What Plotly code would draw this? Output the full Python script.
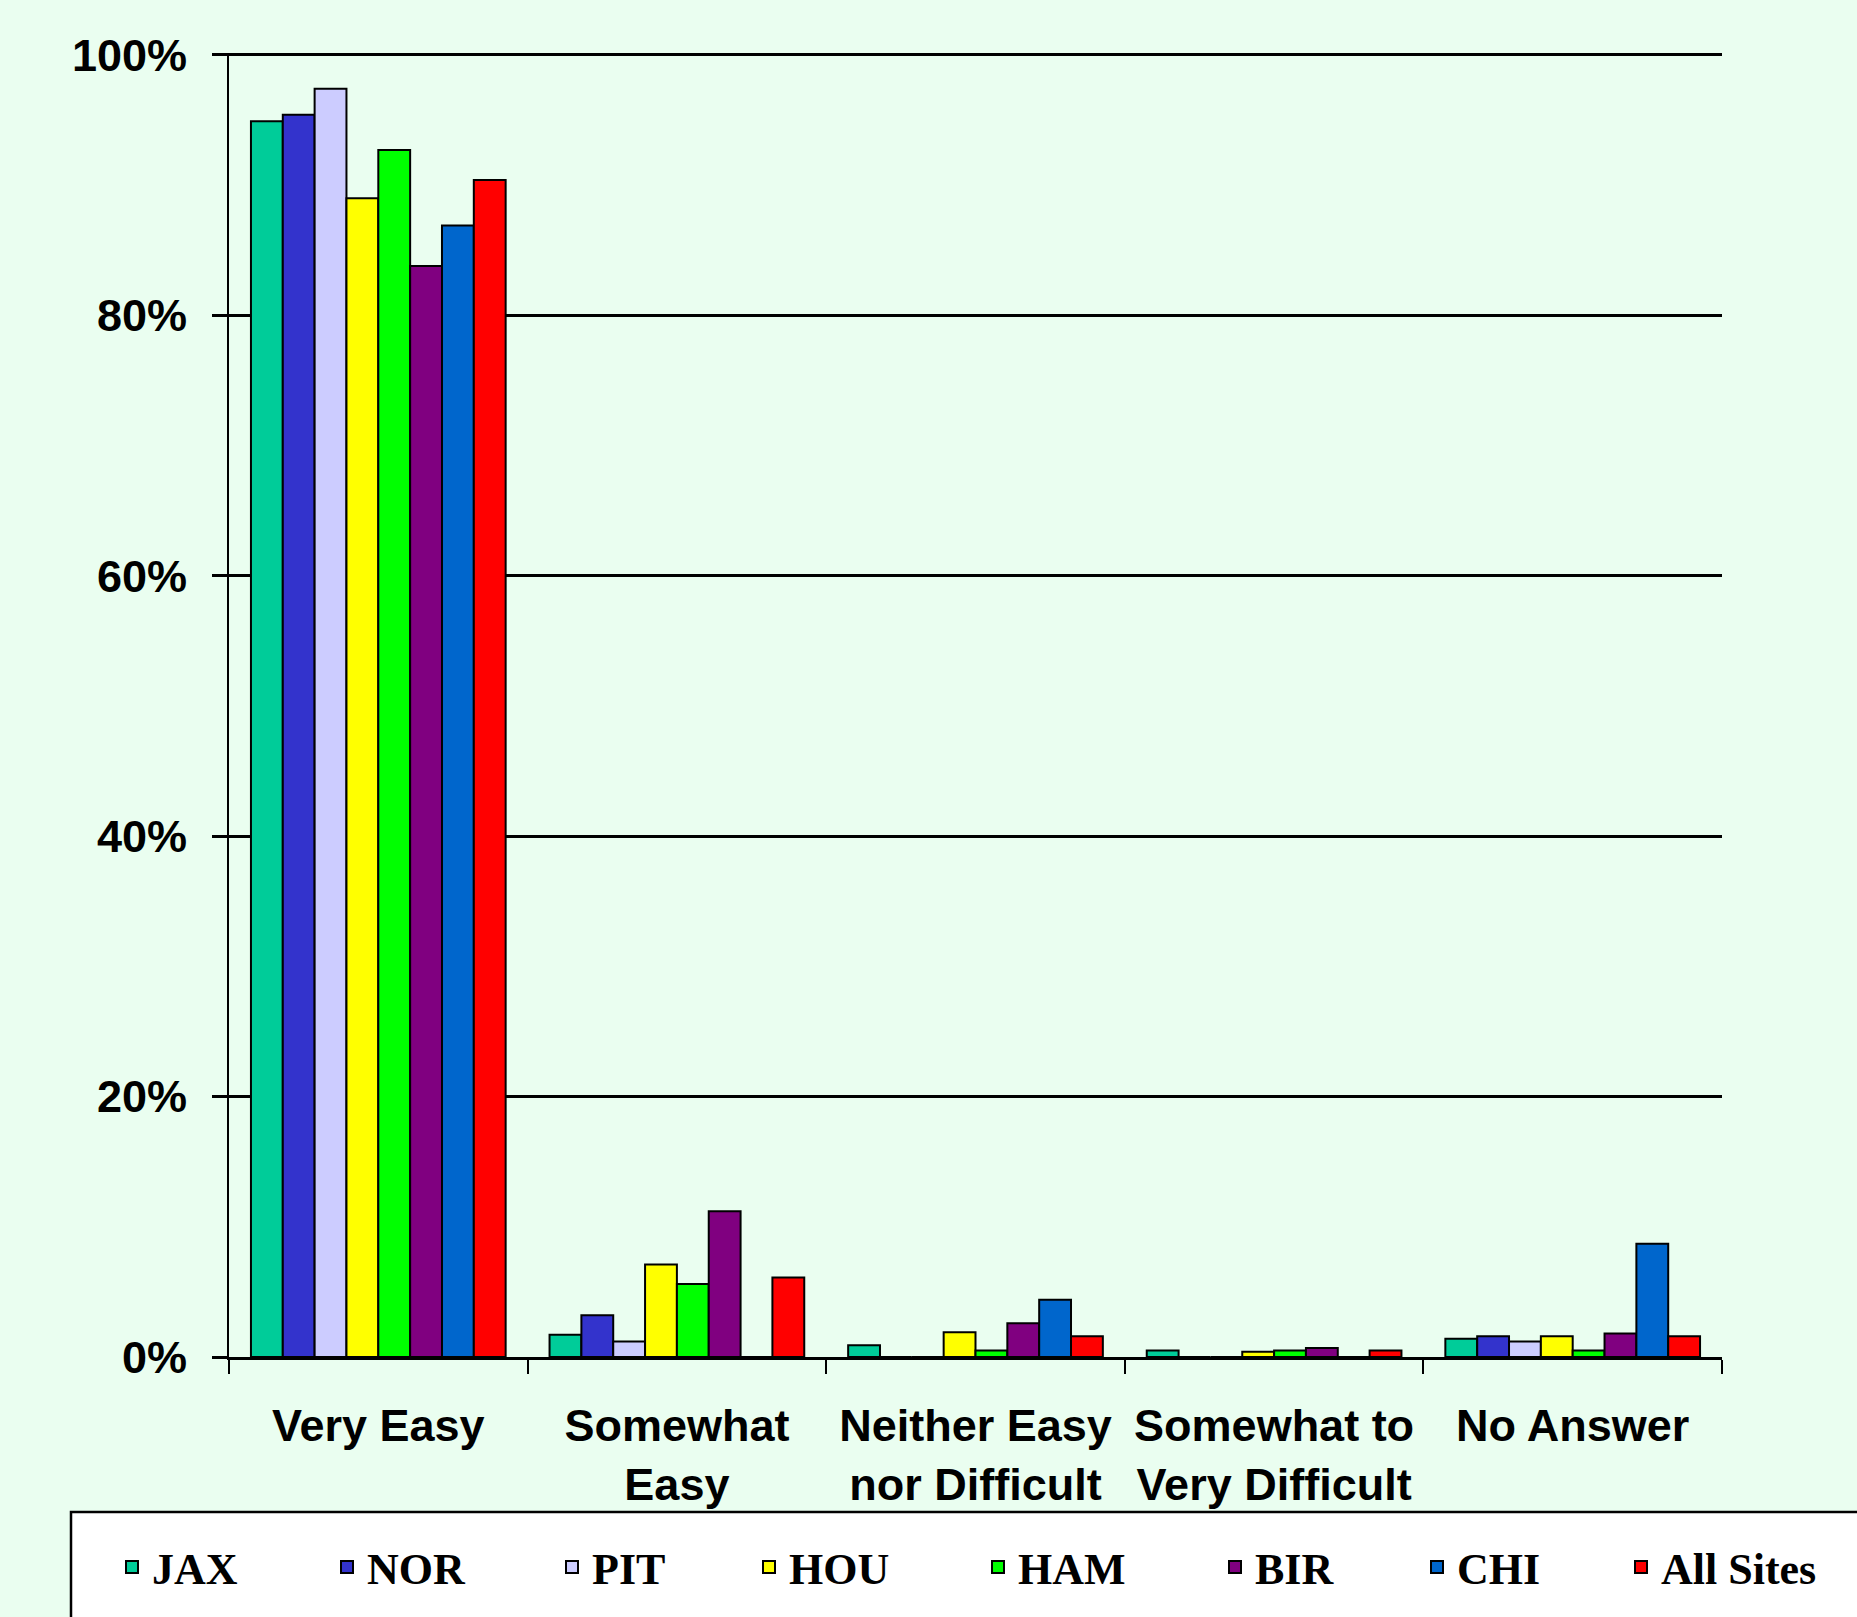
import plotly.graph_objects as go

# ---------------- data ----------------
categories = ["Very Easy", "Somewhat<br>Easy", "Neither Easy<br>nor Difficult",
              "Somewhat to<br>Very Difficult", "No Answer"]
sites = ["JAX", "NOR", "PIT", "HOU", "HAM", "BIR", "CHI", "All Sites"]

jax = [94.9, 1.7, 0.9, 0.5, 1.4]
nor = [95.4, 3.2, 0.0, 0.0, 1.6]
pit = [97.4, 1.2, 0.0, 0.0, 1.2]
hou = [89.0, 7.1, 1.9, 0.4, 1.6]
ham = [92.7, 5.6, 0.5, 0.5, 0.5]
bir = [83.8, 11.2, 2.6, 0.7, 1.8]
chi = [86.9, 0.0, 4.4, 0.0, 8.7]
all_sites = [90.4, 6.1, 1.6, 0.5, 1.6]

y_tick_vals = [0, 20, 40, 60, 80, 100]
y_tick_text = ["0%", "20%", "40%", "60%", "80%", "100%"]

series = [jax, nor, pit, hou, ham, bir, chi, all_sites]
colors = ["#00CC99", "#3333CC", "#CCCCFF", "#FFFF00", "#00FF00", "#800080", "#0066CC", "#FF0000"]
legend_widths = [170, 180, 152, 184, 192, 157, 159, 160]

# ---------------- layout geometry ----------------
W, H = 1857, 1617
ML, MR, MT, MB = 229, 135, 53, 260
PW = W - ML - MR
PH = H - MT - MB
Y_MAX = 100.15


def px_x(p):
    return (p - ML) / PW


def px_y(p):
    # paper y for a pixel row, with 0% at row 1357 and 100% at row ~55
    return (1357 - p) / (1357 - 55) * (100 / Y_MAX)


BG = "#EAFEF0"
tick_font = dict(family="Liberation Sans, Arial, sans-serif", size=45, color="black", weight="bold")

fig = go.Figure()
for name, vals, col, lw in zip(sites, series, colors, legend_widths):
    fig.add_trace(go.Bar(
        x=categories, y=vals, name=name,
        marker=dict(color=col, line=dict(color="black", width=2)),
        legendwidth=lw,
    ))

# legend frame
fig.add_shape(type="rect", xref="paper", yref="paper",
              x0=px_x(71), x1=px_x(1950), y0=px_y(1512), y1=px_y(1700),
              fillcolor="white", line=dict(color="black", width=2.5), layer="below")

fig.update_layout(
    width=W, height=H, autosize=False,
    margin=dict(l=ML, r=MR, t=MT, b=MB, autoexpand=False),
    paper_bgcolor=BG, plot_bgcolor=BG,
    barmode="group", bargap=0.147, bargroupgap=0,
    showlegend=True,
    legend=dict(
        orientation="h", xref="paper", yref="paper",
        x=px_x(112), y=px_y(1532), xanchor="left", yanchor="top",
        bgcolor="rgba(0,0,0,0)", borderwidth=0, itemwidth=30,
        font=dict(family="Liberation Serif, Times New Roman, serif", size=44, color="black", weight="bold"),
        traceorder="normal",
    ),
    xaxis=dict(
        type="category", tickson="boundaries", ticks="outside", ticklen=14,
        tickwidth=2, tickcolor="black", showline=True, linecolor="black", linewidth=3,
        showgrid=False, tickfont=tick_font, ticklabelstandoff=27,
        automargin=False,
    ),
    yaxis=dict(
        range=[0, Y_MAX], tickmode="array", tickvals=y_tick_vals, ticktext=y_tick_text,
        ticks="outside", ticklen=15, tickwidth=2.5, tickcolor="black",
        showline=True, linecolor="black", linewidth=2,
        showgrid=True, gridcolor="black", gridwidth=2.5, zeroline=False,
        tickfont=tick_font, ticklabelstandoff=16, automargin=False,
    ),
)

fig.write_html("out.html")
